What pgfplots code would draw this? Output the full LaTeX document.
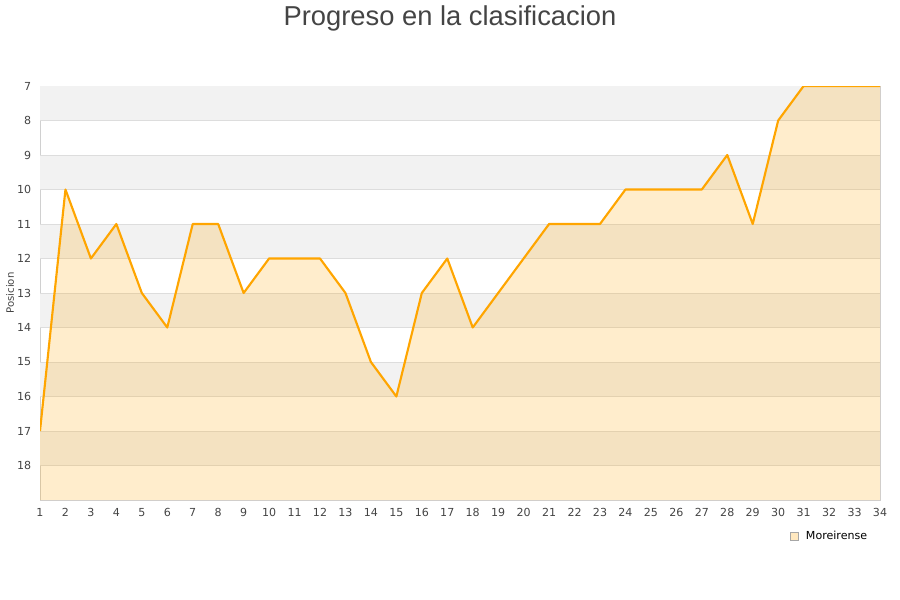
\documentclass[border=0pt]{standalone}
\usepackage{fontspec}
\setmainfont{DejaVu Sans}
\newfontfamily\titlefont{Liberation Sans}
\usepackage{pgfplots}
\pgfplotsset{compat=1.18}
\definecolor{gridc}{HTML}{DDDDDD}
\definecolor{bandc}{HTML}{F2F2F2}
\definecolor{linec}{HTML}{FFA500}
\definecolor{txt}{HTML}{444444}
\definecolor{axc}{HTML}{D0D0D0}
\begin{document}
\begin{tikzpicture}[x=1pt,y=1pt]
% page: 900x600 px at 0.75pt/px, origin = lower left of plot area (40px,500px)
\useasboundingbox (-30,-75) rectangle (645,375);
\begin{axis}[
    at={(0,0)}, anchor=south west,
    scale only axis,
    width=630pt, height=310.5pt,
    xmin=1, xmax=34, ymin=7, ymax=19,
    y dir=reverse,
    xtick={1,...,34},
    ytick={7,...,18},
    major tick length=0pt,
    axis line style={axc},
    tick label style={font=\fontsize{8.3}{10}\selectfont, text=txt},
    /pgf/number format/assume math mode=true,
    xticklabel style={yshift=-3pt},
    yticklabel style={xshift=-3pt},
    ylabel={Posicion},
    ylabel style={at={(axis description cs:-0.0357,0.5)}, anchor=center, font=\fontsize{7.6}{9}\selectfont, text=txt},
    legend style={at={(axis description cs:0.993,-0.062)}, anchor=north east, draw=none, fill=none,
        font=\fontsize{8.3}{10}\selectfont, text=black},
    legend image code/.code={\draw[draw=gray!70, fill=linec, fill opacity=0.25] (0pt,-2.8pt) rectangle (5.6pt,2.8pt);
        \path[draw=none] (0pt,0pt) -- (9.5pt,0pt);},
]
% alternating background bands
\pgfplotsinvokeforeach{7,9,11,13,15,17}{
  \fill[bandc] (axis cs:1,#1) rectangle (axis cs:34,#1+1);
}
\pgfplotsinvokeforeach{8,...,18}{
  \draw[gridc, line width=0.75pt] (axis cs:1,#1) -- (axis cs:34,#1);
}
% filled area
\addplot[draw=none, fill=linec, fill opacity=0.2, forget plot] coordinates {
 (1,19) (1,17) (2,10) (3,12) (4,11) (5,13) (6,14) (7,11) (8,11) (9,13) (10,12)
 (11,12) (12,12) (13,13) (14,15) (15,16) (16,13) (17,12) (18,14) (19,13) (20,12)
 (21,11) (22,11) (23,11) (24,10) (25,10) (26,10) (27,10) (28,9) (29,11) (30,8)
 (31,7) (32,7) (33,7) (34,7) (34,19)
} -- cycle;
\addlegendimage{}
\addlegendentry{Moreirense}
% line
\addplot[linec, line width=1.6pt, line join=round, forget plot] coordinates {
 (1,17) (2,10) (3,12) (4,11) (5,13) (6,14) (7,11) (8,11) (9,13) (10,12)
 (11,12) (12,12) (13,13) (14,15) (15,16) (16,13) (17,12) (18,14) (19,13) (20,12)
 (21,11) (22,11) (23,11) (24,10) (25,10) (26,10) (27,10) (28,9) (29,11) (30,8)
 (31,7) (32,7) (33,7) (34,7)
};
\end{axis}
\node[font=\titlefont\fontsize{20.5}{23}\selectfont, text=txt] at (307.5,361.5) {Progreso en la clasificacion};
\end{tikzpicture}
\end{document}
